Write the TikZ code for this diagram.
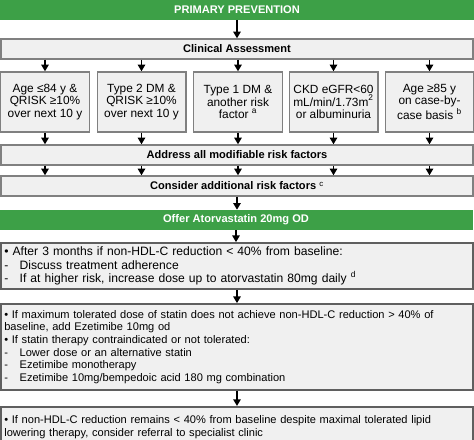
\documentclass[tikz,border=0pt]{standalone}
\usepackage{fontspec}
\setmainfont{Liberation Sans}
\usepackage{xcolor}
\usetikzlibrary{calc,arrows.meta}
\definecolor{ppgreen}{RGB}{61,160,71}
\definecolor{boxfill}{RGB}{240,240,240}
\definecolor{boxline}{RGB}{128,128,128}
\definecolor{darkline}{RGB}{95,95,95}
\newcommand{\txt}{\fontsize{8.9}{9.4}\selectfont}
\newcommand{\bigtxt}{\fontsize{9.1}{10}\selectfont}
\newcommand{\smalltxt}{\fontsize{8.3}{9.5}\selectfont}
\newcommand{\hdr}{\fontsize{8.3}{9.6}\selectfont\bfseries}
\newcommand{\dash}{\makebox[11.5pt][l]{-}}
\tikzset{
	greenbar/.style={fill=ppgreen, text=white, font=\hdr, minimum width=355pt, minimum height=15pt, inner sep=0pt},
	widebox/.style={draw=boxline, fill=boxfill, line width=1pt, font=\hdr, minimum width=354pt, minimum height=15pt, inner sep=0pt},
	riskbox/.style={draw=boxline, fill=boxfill, line width=1pt, font=\txt, minimum width=66.5pt, minimum height=45pt, align=center, inner sep=0pt},
	stepnote/.style={draw=darkline, fill=boxfill, line width=1.3pt, font=\smalltxt, text width=349pt, inner xsep=2.5pt, inner ysep=2pt, align=left},
	flow/.style={line width=1.2pt, -{Triangle[width=5.5pt,length=5pt]}}
}

\begin{document}
\begin{tikzpicture}[x=0.75pt, y=-0.75pt]
			\clip (0,0) rectangle (474,439);
			\node[greenbar] (prim) at (237,9.5) {PRIMARY PREVENTION};
			\node[widebox] (clin) at (237,49) {Clinical Assessment};
			\node[riskbox] (r1) at (45,102) {Age ≤84 y \&\\QRISK ≥10\%\\over next 10 y};
			\node[riskbox] (r2) at (141.5,102) {Type 2 DM \&\\QRISK ≥10\%\\over next 10 y};
			\node[riskbox] (r3) at (238,102) {Type 1 DM \&\\another risk\\factor \textsuperscript{a}};
			\node[riskbox] (r4) at (333.5,102) {CKD eGFR<60\\mL/min/1.73m\textsuperscript{2}\\or albuminuria};
			\node[riskbox] (r5) at (429.5,102) {Age ≥85 y\\on case-by-\\case basis \textsuperscript{b}};
			\node[widebox] (addr) at (237,155) {Address all modifiable risk factors};
			\node[widebox] (cons) at (237,186) {Consider additional risk factors \textsuperscript{\mdseries c}};
			\node[greenbar, minimum height=15pt] (offer) at (236,220) {Offer Atorvastatin 20mg OD};
			\node[stepnote, font=\bigtxt, minimum height=34.5pt] (sa) at (237,266)
			{
				• After 3 months if non-HDL-C reduction < 40\% from baseline:\\
				\dash Discuss treatment adherence\\
				\dash If at higher risk, increase dose up to atorvastatin 80mg daily \textsuperscript{d}
			};
			\node[stepnote, minimum height=64.5pt] (sb) at (237,347)
			{
				• If maximum tolerated dose of statin does not achieve non-HDL-C reduction > 40\% of\\
				baseline, add Ezetimibe 10mg od\\
				• If statin therapy contraindicated or not tolerated:\\
				\dash Lower dose or an alternative statin\\
				\dash Ezetimibe monotherapy\\
				\dash Ezetimibe 10mg/bempedoic acid 180 mg combination
			};
			\node[stepnote, minimum height=30pt, anchor=north] (sc) at (237,406)
			{
				• If non-HDL-C reduction remains < 40\% from baseline despite maximal tolerated lipid\\
				lowering therapy, consider referral to specialist clinic
			};
			% connectors
			\draw[flow] (prim.south) -- (clin.north);
			\foreach \r in {r1,r2,r3,r4,r5}
			{
				\draw[flow] (clin.south -| \r.north) -- (\r.north);
				\draw[flow] (\r.south) -- (\r.south |- addr.north);
				\draw[flow] (\r.south |- addr.south) -- (\r.south |- cons.north);
			}
			\draw[flow] (cons.south) -- (cons.south |- offer.north);
			\draw[flow] (offer.south) -- (offer.south |- sa.north);
			\draw[flow] (sa.south) -- (sb.north);
			\draw[flow] (sb.south) -- (sc.north);
		\end{tikzpicture}
\end{document}
